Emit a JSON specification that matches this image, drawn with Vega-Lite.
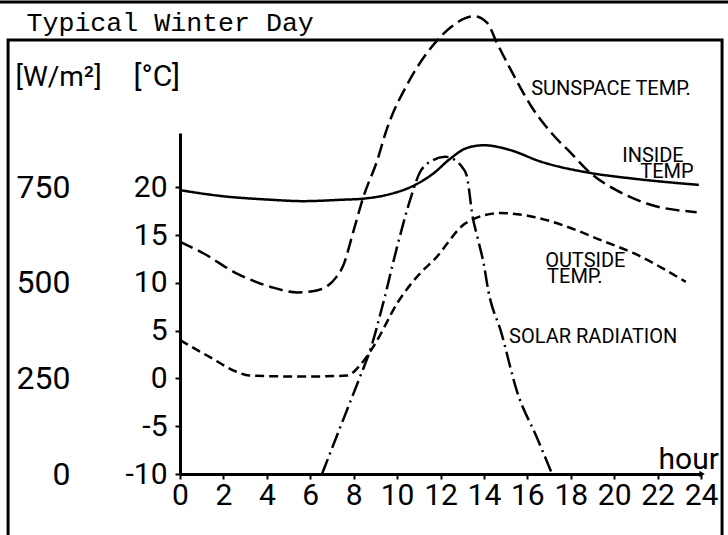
{
  "$schema": "https://vega.github.io/schema/vega-lite/v6.json",
  "width": 521,
  "height": 341,
  "autosize": {"type": "none"},
  "padding": {"left": 180, "top": 133, "right": 27, "bottom": 61},
  "background": "white",
  "config": {
    "view": {"stroke": null},
    "font": "Roboto, DejaVu Sans",
    "axis": {"grid": false, "labelColor": "black", "titleColor": "black", "domainColor": "black", "tickColor": "black", "labelOverlap": false, "labelFlush": false, "titleFontWeight": "normal"}
  },
  "title": {"text": "Typical Winter Day", "anchor": "start", "font": "Liberation Mono", "fontSize": 26.6, "fontWeight": "normal", "color": "black", "baseline": "alphabetic", "dx": 28, "dy": 61},
  "datasets": {
    "temps": [
      {"h": 0, "T": 19.7, "series": "inside"},
      {"h": 1.84, "T": 19.1, "series": "inside"},
      {"h": 4.15, "T": 18.7, "series": "inside"},
      {"h": 5.67, "T": 18.55, "series": "inside"},
      {"h": 7.5, "T": 18.7, "series": "inside"},
      {"h": 8.4, "T": 18.8, "series": "inside"},
      {"h": 9.7, "T": 19.3, "series": "inside"},
      {"h": 10.7, "T": 20.1, "series": "inside"},
      {"h": 11.7, "T": 21.5, "series": "inside"},
      {"h": 12.4, "T": 22.9, "series": "inside"},
      {"h": 13.2, "T": 24.1, "series": "inside"},
      {"h": 14.0, "T": 24.4, "series": "inside"},
      {"h": 15.2, "T": 23.9, "series": "inside"},
      {"h": 16.6, "T": 22.7, "series": "inside"},
      {"h": 18.9, "T": 21.5, "series": "inside"},
      {"h": 20.9, "T": 20.9, "series": "inside"},
      {"h": 23.9, "T": 20.25, "series": "inside"},
      {"h": 0, "T": 14.3, "series": "sunspace"},
      {"h": 1.07, "T": 13.1, "series": "sunspace"},
      {"h": 2.6, "T": 11.0, "series": "sunspace"},
      {"h": 4.15, "T": 9.6, "series": "sunspace"},
      {"h": 5.4, "T": 9.0, "series": "sunspace"},
      {"h": 6.3, "T": 9.2, "series": "sunspace"},
      {"h": 7.2, "T": 10.6, "series": "sunspace"},
      {"h": 7.5, "T": 11.7, "series": "sunspace"},
      {"h": 8.0, "T": 15.5, "series": "sunspace"},
      {"h": 8.45, "T": 19.0, "series": "sunspace"},
      {"h": 9.1, "T": 22.9, "series": "sunspace"},
      {"h": 9.5, "T": 25.9, "series": "sunspace"},
      {"h": 10.5, "T": 30.9, "series": "sunspace"},
      {"h": 11.6, "T": 34.7, "series": "sunspace"},
      {"h": 12.5, "T": 36.8, "series": "sunspace"},
      {"h": 13.55, "T": 37.9, "series": "sunspace"},
      {"h": 14.15, "T": 37.2, "series": "sunspace"},
      {"h": 14.6, "T": 35.1, "series": "sunspace"},
      {"h": 15.4, "T": 31.6, "series": "sunspace"},
      {"h": 16.2, "T": 28.4, "series": "sunspace"},
      {"h": 17.1, "T": 25.7, "series": "sunspace"},
      {"h": 18.0, "T": 23.6, "series": "sunspace"},
      {"h": 18.9, "T": 21.5, "series": "sunspace"},
      {"h": 20.1, "T": 19.7, "series": "sunspace"},
      {"h": 21.5, "T": 18.3, "series": "sunspace"},
      {"h": 23.8, "T": 17.4, "series": "sunspace"},
      {"h": 0, "T": 4.0, "series": "outside"},
      {"h": 1.4, "T": 2.2, "series": "outside"},
      {"h": 2.6, "T": 0.7, "series": "outside"},
      {"h": 3.2, "T": 0.3, "series": "outside"},
      {"h": 5.7, "T": 0.2, "series": "outside"},
      {"h": 7.7, "T": 0.3, "series": "outside"},
      {"h": 8.3, "T": 1.4, "series": "outside"},
      {"h": 8.9, "T": 3.3, "series": "outside"},
      {"h": 10.1, "T": 8.2, "series": "outside"},
      {"h": 11.06, "T": 11.0, "series": "outside"},
      {"h": 11.7, "T": 12.4, "series": "outside"},
      {"h": 13.2, "T": 16.3, "series": "outside"},
      {"h": 14.75, "T": 17.3, "series": "outside"},
      {"h": 16.3, "T": 16.9, "series": "outside"},
      {"h": 17.8, "T": 15.9, "series": "outside"},
      {"h": 19.35, "T": 14.5, "series": "outside"},
      {"h": 20.9, "T": 13.1, "series": "outside"},
      {"h": 23.3, "T": 10.1, "series": "outside"}
    ],
    "solar": [
      {"h": 6.54, "W": 0},
      {"h": 7.51, "W": 141},
      {"h": 8.29, "W": 254},
      {"h": 8.76, "W": 324},
      {"h": 9.36, "W": 447},
      {"h": 10.0, "W": 594},
      {"h": 10.6, "W": 717},
      {"h": 11.06, "W": 790},
      {"h": 11.66, "W": 821},
      {"h": 12.2, "W": 830},
      {"h": 12.67, "W": 821},
      {"h": 13.03, "W": 800},
      {"h": 13.2, "W": 782},
      {"h": 13.3, "W": 750},
      {"h": 13.45, "W": 683},
      {"h": 13.7, "W": 620},
      {"h": 14.0, "W": 547},
      {"h": 14.2, "W": 480},
      {"h": 14.79, "W": 372},
      {"h": 15.53, "W": 215},
      {"h": 16.45, "W": 94},
      {"h": 17.14, "W": 0}
    ],
    "labels": [
      {"h": 16.18, "T": 29.65, "text": "SUNSPACE TEMP."},
      {"h": 20.37, "T": 22.64, "text": "INSIDE"},
      {"h": 21.2, "T": 20.97, "text": "TEMP"},
      {"h": 16.82, "T": 11.66, "text": "OUTSIDE"},
      {"h": 16.91, "T": 9.98, "text": "TEMP."},
      {"h": 15.16, "T": 3.7, "text": "SOLAR RADIATION"}
    ]
  },
  "layer": [
    {
      "layer": [
        {
          "data": {"values": [{}]},
          "mark": {"type": "rect", "filled": false, "stroke": "black", "strokeWidth": 3},
          "encoding": {
            "x": {"datum": -7.92, "type": "quantitative", "scale": {"domain": [0, 24], "nice": false, "zero": false}},
            "x2": {"datum": 24.97},
            "y": {"datum": 35.41, "type": "quantitative", "scale": {"domain": [-10, 25.68], "nice": false, "zero": false}},
            "y2": {"datum": -19}
          }
        },
        {
          "data": {"values": [{}]},
          "mark": {"type": "rule", "stroke": "black", "strokeWidth": 3},
          "encoding": {
            "x": {"datum": -8.29, "type": "quantitative"},
            "x2": {"datum": 25.25},
            "y": {"datum": 39.38, "type": "quantitative"}
          }
        },
        {
          "data": {"values": [{}]},
          "mark": {"type": "point", "shape": "triangle-right", "filled": true, "color": "black", "size": 40, "opacity": 1},
          "encoding": {
            "x": {"datum": 24.05, "type": "quantitative"},
            "y": {"datum": -10, "type": "quantitative"}
          }
        },
        {
          "data": {"name": "temps"},
          "mark": {"type": "line", "interpolate": "monotone", "strokeWidth": 2.5, "color": "black", "strokeCap": "butt"},
          "encoding": {
            "x": {
              "field": "h", "type": "quantitative",
              "scale": {"domain": [0, 24], "nice": false, "zero": false},
              "axis": {"values": [0, 2, 4, 6, 8, 10, 12, 14, 16, 18, 20, 22, 24], "tickSize": 5, "tickWidth": 2, "domainWidth": 3, "labelFontSize": 30, "labelPadding": 1, "title": "hour", "titleX": 478, "titleY": -6, "titleAlign": "left", "titleBaseline": "alphabetic", "titleFontSize": 30, "titleAnchor": "start"}
            },
            "y": {
              "field": "T", "type": "quantitative",
              "scale": {"domain": [-10, 25.68], "nice": false, "zero": false},
              "axis": {"values": [-10, -5, 0, 5, 10, 15, 20], "tickSize": 5, "tickWidth": 2, "domainWidth": 3, "labelFontSize": 30, "labelPadding": 8, "labelExpr": "datum.value < 0 ? '-' + abs(datum.value) : '' + datum.value", "title": "[°C]", "titleAngle": 0, "titleX": -47, "titleY": -48, "titleAlign": "left", "titleBaseline": "alphabetic", "titleFontSize": 30}
            },
            "strokeDash": {"field": "series", "type": "nominal", "scale": {"domain": ["sunspace", "inside", "outside"], "range": [[14, 6], [1, 0], [9, 5]]}, "legend": null}
          }
        },
        {
          "data": {"name": "labels"},
          "mark": {"type": "text", "align": "left", "baseline": "alphabetic", "fontSize": 20, "color": "black"},
          "encoding": {
            "x": {"field": "h", "type": "quantitative"},
            "y": {"field": "T", "type": "quantitative"},
            "text": {"field": "text"}
          }
        }
      ]
    },
    {
      "data": {"name": "solar"},
      "mark": {"type": "line", "interpolate": "monotone", "strokeWidth": 2.5, "color": "black", "strokeDash": [16, 5, 2, 5], "strokeCap": "butt"},
      "encoding": {
        "x": {"field": "h", "type": "quantitative"},
        "y": {
          "field": "W", "type": "quantitative",
          "scale": {"domain": [0, 892], "nice": false, "zero": false},
          "axis": {"orient": "left", "offset": 106, "values": [0, 250, 500, 750], "domain": false, "ticks": false, "tickSize": 0, "labelPadding": 4, "labelFontSize": 32, "title": "[W/m²]", "titleAngle": 0, "titleX": -59, "titleY": -48, "titleAlign": "left", "titleBaseline": "alphabetic", "titleFontSize": 28}
        }
      }
    }
  ],
  "resolve": {"scale": {"y": "independent"}, "axis": {"y": "independent"}}
}
